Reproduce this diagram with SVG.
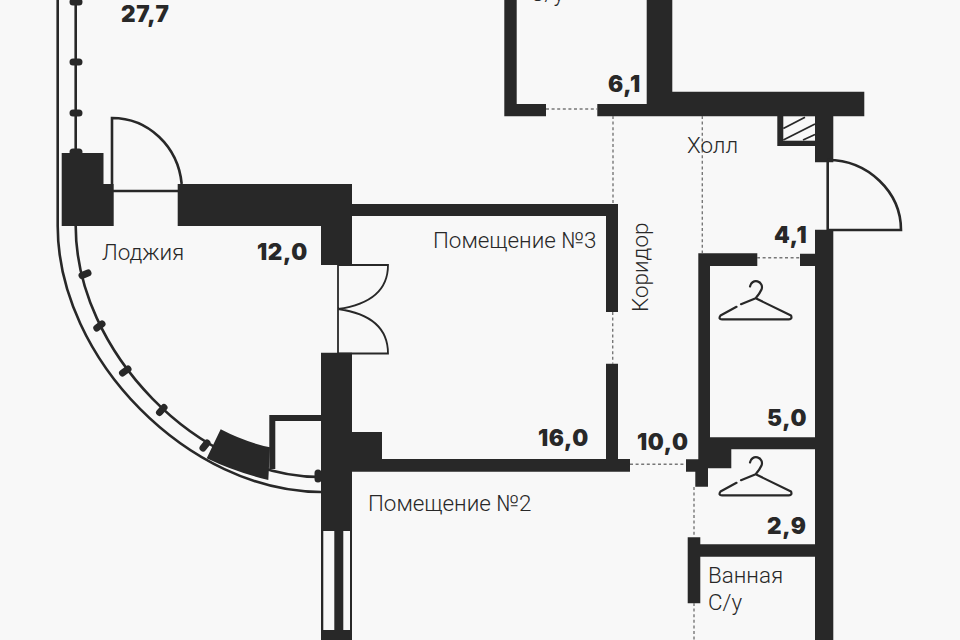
<svg xmlns="http://www.w3.org/2000/svg" xmlns:xlink="http://www.w3.org/1999/xlink" width="960" height="640" viewBox="0 0 960 640">
<style>
.w{fill:#282828}
.l{fill:none;stroke:#282828;stroke-width:2.6}
.t{fill:none;stroke:#282828;stroke-width:1.8}
.d{fill:none;stroke:#777;stroke-width:1.4;stroke-dasharray:3 2.6}
.k{fill:none;stroke:#282828;stroke-width:7;stroke-linecap:round}
.h{fill:none;stroke:#282828;stroke-width:2.2;stroke-linecap:round;stroke-linejoin:round}
text{font-family:"Roboto","Noto Sans",sans-serif;font-size:22.400px;font-weight:300;fill:#282828}
.n{font-family:"Inter","Noto Sans",sans-serif;font-weight:900;font-size:22.500px;letter-spacing:0.600px}
</style>
<defs>
<g id="hanger">
<path class="h" d="M750 286.500A6 6 0 1 1 761.500 289.500Q760 293 755.700 298.300L791 315.500Q792.500 319.300 789 319.300L722 319.300Q718 319.300 720.500 315.500L736.500 306.800M741 304.200L755.700 298.300"/>
</g>
</defs>
<rect width="960" height="640" fill="#f8f8f8"/>
<g id="rails">
<path class="l" d="M57.700 0V226C57.700 359 189.500 492 321 492"/>
<path class="l" d="M75.700 0V226C75.700 351.500 198.400 477 321 477"/>
<path class="k" d="M73 2H79M73 62H79M73 113H79M73 152H79M82 275.500L88 273M96.800 328L102 324M122.500 373L128 369M159.500 412.500L164 407.500M203 448L207 443M318 473V479"/>
</g>
<g id="walls">
<path class="w" d="M61.700 153H103.500V184H113.700V226H61.700Z"/>
<path class="w" d="M177.700 184H352V265H321V226H177.700Z"/>
<path class="w" d="M352 204H618V312H606V216H352Z"/>
<path class="w" d="M321 352.700H352V432H382V459H606V363.700H618V459H630V471.700H382H352V640H321Z"/>
<path class="w" d="M220.700 429.300Q245 442 270 447.300L268.300 480Q235 472 206.700 458.300Z"/>
<path class="w" d="M269.300 415H321V421H275.300V469H269.300Z"/>
<path class="w" d="M504.300 0H516.700V104H546V116.300H504.300Z"/>
<path class="w" d="M646.700 0H672.300V91.700H864.300V116.300H833.300V162.300H815V146H777.300V116.300H597.300V104H646.700Z"/>
<path class="w" d="M815 229.700H833.300V640H815V556.700H700.300V603.300H687.700V537.300H700.300V544.300H815V449.300H731.300V468.300H708V486.700H695.300V471.700H686V459.300H698.300V253.300H757.300V266H710V437.300H815V266H800V253.700H815Z"/>
</g>
<g id="shaft">
<rect x="783.300" y="116.300" width="31.700" height="24.400" fill="#f8f8f8"/>
<path class="t" d="M783.300 128.500L805 117.300M783.300 140L815 124M803 140L815 134.500"/>
</g>
<g id="window">
<rect x="323.300" y="531" width="11" height="99" fill="#f8f8f8"/>
<rect x="343.300" y="531" width="6.700" height="99" fill="#f8f8f8"/>
</g>
<g id="door-loggia">
<path class="l" d="M112 184V118C148 118 178 146 181.700 184"/>
<path class="l" d="M113 191H178"/>
</g>
<g id="door-double">
<path class="t" d="M338 265V353.500H388Q388 316 338 309Q388 302 388 265H338"/>
</g>
<g id="door-entry">
<path class="l" d="M827.700 162V230H901C901 192 868 160 827.700 160"/>
</g>
<g id="dashes">
<path class="d" d="M546 109H597M613 116V204M702.300 116V253M757 257.700H800M612.700 312V363.700M630 464.300H686M694 487V537M694 603V640"/>
</g>
<g id="hangers">
<use xlink:href="#hanger" href="#hanger"/>
<use xlink:href="#hanger" href="#hanger" y="176"/>
</g>
<g id="labels">
<text x="530" y="1">С/у</text>
<text class="n" x="121" y="21.500">27,7</text>
<text class="n" x="608" y="91.500">6,1</text>
<text x="687" y="153">Холл</text>
<text class="n" x="774" y="243">4,1</text>
<text x="102" y="260">Лоджия</text>
<text class="n" x="257" y="260">12,0</text>
<text x="433" y="248">Помещение №3</text>
<text transform="translate(648 312) rotate(-90)">Коридор</text>
<text class="n" x="767" y="426">5,0</text>
<text class="n" x="538" y="446">16,0</text>
<text class="n" x="637" y="450">10,0</text>
<text x="368" y="511">Помещение №2</text>
<text class="n" x="767" y="533.500">2,9</text>
<text x="708" y="583">Ванная</text>
<text x="708" y="610">С/у</text>
</g>
</svg>
